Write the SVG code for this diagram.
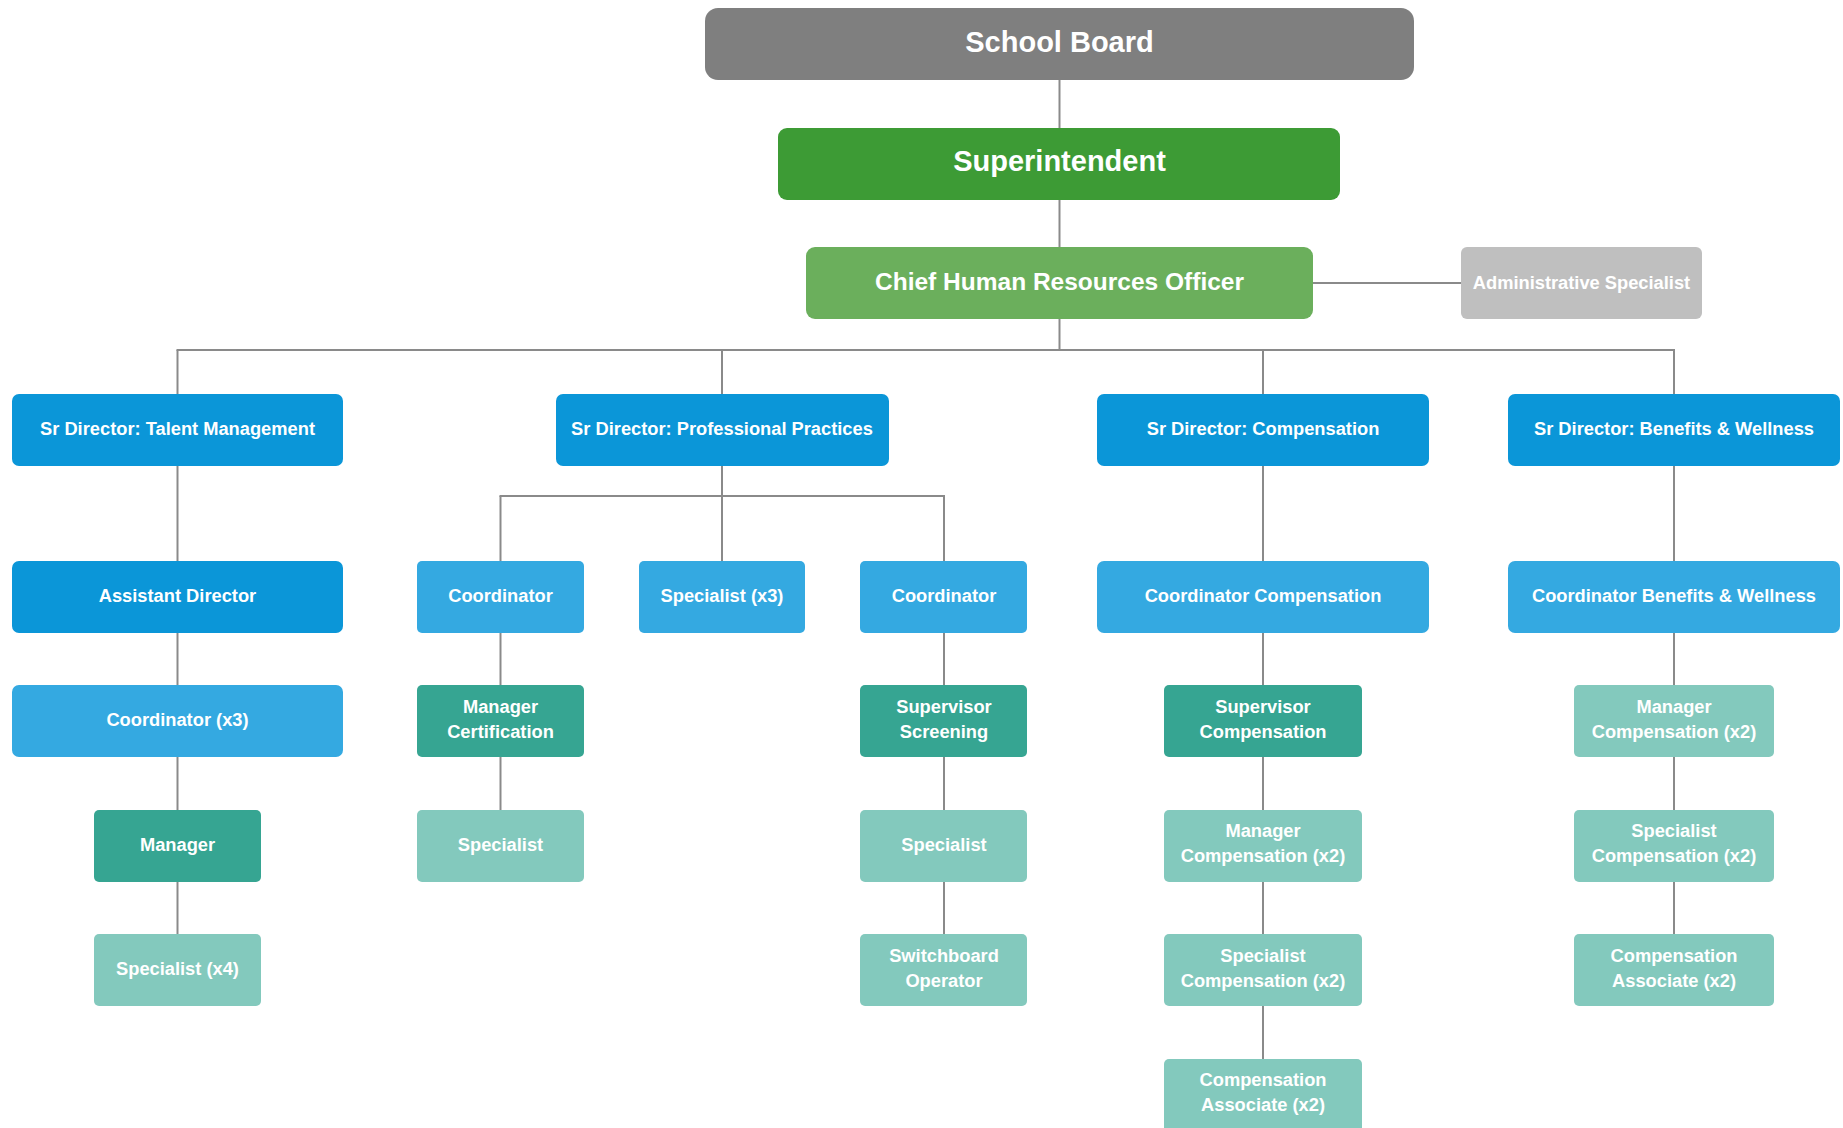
<svg xmlns="http://www.w3.org/2000/svg" width="1843" height="1128" viewBox="0 0 1843 1128">
<style>
  text { font-family: "Liberation Sans", Arial, sans-serif; font-weight: bold; fill: #ffffff; text-anchor: middle; }
  .t18 { font-size: 18.3px; }
  .conn line { stroke: #8a8a8a; stroke-width: 2; }
  .blue { fill: #0b96d8; }
  .lblue { fill: #34a9e1; }
  .dteal { fill: #36a592; }
  .lteal { fill: #83c9bd; }
</style>
<rect width="1843" height="1128" fill="#ffffff"/>
<g id="connectors" class="conn">
  <line x1="1059.5" y1="80" x2="1059.5" y2="128"/>
  <line x1="1059.5" y1="200" x2="1059.5" y2="247"/>
  <line x1="1059.5" y1="319" x2="1059.5" y2="350"/>
  <line x1="1313" y1="283" x2="1461" y2="283"/>
  <line x1="176.5" y1="350" x2="1675" y2="350"/>
  <line x1="177.5" y1="350" x2="177.5" y2="394"/>
  <line x1="722" y1="350" x2="722" y2="394"/>
  <line x1="1263" y1="350" x2="1263" y2="394"/>
  <line x1="1674" y1="350" x2="1674" y2="394"/>
  <line x1="177.5" y1="466" x2="177.5" y2="561"/>
  <line x1="177.5" y1="633" x2="177.5" y2="685"/>
  <line x1="177.5" y1="757" x2="177.5" y2="810"/>
  <line x1="177.5" y1="882" x2="177.5" y2="934"/>
  <line x1="722" y1="466" x2="722" y2="561"/>
  <line x1="499.5" y1="496" x2="945" y2="496"/>
  <line x1="500.5" y1="496" x2="500.5" y2="561"/>
  <line x1="944" y1="496" x2="944" y2="561"/>
  <line x1="500.5" y1="633" x2="500.5" y2="685"/>
  <line x1="500.5" y1="757" x2="500.5" y2="810"/>
  <line x1="944" y1="633" x2="944" y2="685"/>
  <line x1="944" y1="757" x2="944" y2="810"/>
  <line x1="944" y1="882" x2="944" y2="934"/>
  <line x1="1263" y1="466" x2="1263" y2="561"/>
  <line x1="1263" y1="633" x2="1263" y2="685"/>
  <line x1="1263" y1="757" x2="1263" y2="810"/>
  <line x1="1263" y1="882" x2="1263" y2="934"/>
  <line x1="1263" y1="1006" x2="1263" y2="1059"/>
  <line x1="1674" y1="466" x2="1674" y2="561"/>
  <line x1="1674" y1="633" x2="1674" y2="685"/>
  <line x1="1674" y1="757" x2="1674" y2="810"/>
  <line x1="1674" y1="882" x2="1674" y2="934"/>
</g>

<g id="school-board"><rect x="705" y="8" width="709" height="72" rx="13" fill="#7f7f7f"/><text x="1059.5" y="52" style="font-size:29px">School Board</text></g>
<g id="superintendent"><rect x="778" y="128" width="562" height="72" rx="9" fill="#3d9b35"/><text x="1059.5" y="171" style="font-size:29px">Superintendent</text></g>
<g id="chro"><rect x="806" y="247" width="507" height="72" rx="9" fill="#6baf5c"/><text x="1059.5" y="290" style="font-size:24.5px">Chief Human Resources Officer</text></g>
<g id="admin-specialist"><rect x="1461" y="247" width="241" height="72" rx="6" fill="#bfbfbf"/><text x="1581.5" y="288.5" style="font-size:18.3px">Administrative Specialist</text></g>

<g id="sr-talent"><rect class="blue" x="12" y="394" width="331" height="72" rx="7"/><text class="t18" x="177.5" y="434.5">Sr Director: Talent Management</text></g>
<g id="sr-professional"><rect class="blue" x="556" y="394" width="333" height="72" rx="7"/><text class="t18" x="722" y="434.5">Sr Director: Professional Practices</text></g>
<g id="sr-compensation"><rect class="blue" x="1097" y="394" width="332" height="72" rx="7"/><text class="t18" x="1263" y="434.5">Sr Director: Compensation</text></g>
<g id="sr-benefits"><rect class="blue" x="1508" y="394" width="332" height="72" rx="7"/><text class="t18" x="1674" y="434.5">Sr Director: Benefits &amp; Wellness</text></g>

<g id="assistant-director"><rect class="blue" x="12" y="561" width="331" height="72" rx="7"/><text class="t18" x="177.5" y="601.5">Assistant Director</text></g>
<g id="coordinator-pp1"><rect class="lblue" x="417" y="561" width="167" height="72" rx="5"/><text class="t18" x="500.5" y="601.5">Coordinator</text></g>
<g id="specialist-x3"><rect class="lblue" x="639" y="561" width="166" height="72" rx="5"/><text class="t18" x="722" y="601.5">Specialist (x3)</text></g>
<g id="coordinator-pp2"><rect class="lblue" x="860" y="561" width="167" height="72" rx="5"/><text class="t18" x="944" y="601.5">Coordinator</text></g>
<g id="coordinator-compensation"><rect class="lblue" x="1097" y="561" width="332" height="72" rx="7"/><text class="t18" x="1263" y="601.5">Coordinator Compensation</text></g>
<g id="coordinator-benefits"><rect class="lblue" x="1508" y="561" width="332" height="72" rx="7"/><text class="t18" x="1674" y="601.5">Coordinator Benefits &amp; Wellness</text></g>

<g id="coordinator-x3"><rect class="lblue" x="12" y="685" width="331" height="72" rx="7"/><text class="t18" x="177.5" y="725.5">Coordinator (x3)</text></g>
<g id="manager-certification"><rect class="dteal" x="417" y="685" width="167" height="72" rx="5"/><text class="t18" x="500.5" y="712.5">Manager</text><text class="t18" x="500.5" y="737.5">Certification</text></g>
<g id="supervisor-screening"><rect class="dteal" x="860" y="685" width="167" height="72" rx="5"/><text class="t18" x="944" y="712.5">Supervisor</text><text class="t18" x="944" y="737.5">Screening</text></g>
<g id="supervisor-compensation"><rect class="dteal" x="1164" y="685" width="198" height="72" rx="5"/><text class="t18" x="1263" y="712.5">Supervisor</text><text class="t18" x="1263" y="737.5">Compensation</text></g>
<g id="manager-compensation-bw"><rect class="lteal" x="1574" y="685" width="200" height="72" rx="5"/><text class="t18" x="1674" y="712.5">Manager</text><text class="t18" x="1674" y="737.5">Compensation (x2)</text></g>

<g id="manager-tm"><rect class="dteal" x="94" y="810" width="167" height="72" rx="5"/><text class="t18" x="177.5" y="850.5">Manager</text></g>
<g id="specialist-pp1"><rect class="lteal" x="417" y="810" width="167" height="72" rx="5"/><text class="t18" x="500.5" y="850.5">Specialist</text></g>
<g id="specialist-pp2"><rect class="lteal" x="860" y="810" width="167" height="72" rx="5"/><text class="t18" x="944" y="850.5">Specialist</text></g>
<g id="manager-compensation"><rect class="lteal" x="1164" y="810" width="198" height="72" rx="5"/><text class="t18" x="1263" y="837">Manager</text><text class="t18" x="1263" y="862">Compensation (x2)</text></g>
<g id="specialist-compensation-bw"><rect class="lteal" x="1574" y="810" width="200" height="72" rx="5"/><text class="t18" x="1674" y="837">Specialist</text><text class="t18" x="1674" y="862">Compensation (x2)</text></g>

<g id="specialist-x4"><rect class="lteal" x="94" y="934" width="167" height="72" rx="5"/><text class="t18" x="177.5" y="974.5">Specialist (x4)</text></g>
<g id="switchboard-operator"><rect class="lteal" x="860" y="934" width="167" height="72" rx="5"/><text class="t18" x="944" y="961.5">Switchboard</text><text class="t18" x="944" y="986.5">Operator</text></g>
<g id="specialist-compensation"><rect class="lteal" x="1164" y="934" width="198" height="72" rx="5"/><text class="t18" x="1263" y="961.5">Specialist</text><text class="t18" x="1263" y="986.5">Compensation (x2)</text></g>
<g id="compensation-associate-bw"><rect class="lteal" x="1574" y="934" width="200" height="72" rx="5"/><text class="t18" x="1674" y="961.5">Compensation</text><text class="t18" x="1674" y="986.5">Associate (x2)</text></g>

<g id="compensation-associate"><rect class="lteal" x="1164" y="1059" width="198" height="75" rx="5"/><text class="t18" x="1263" y="1086">Compensation</text><text class="t18" x="1263" y="1111">Associate (x2)</text></g>
</svg>
